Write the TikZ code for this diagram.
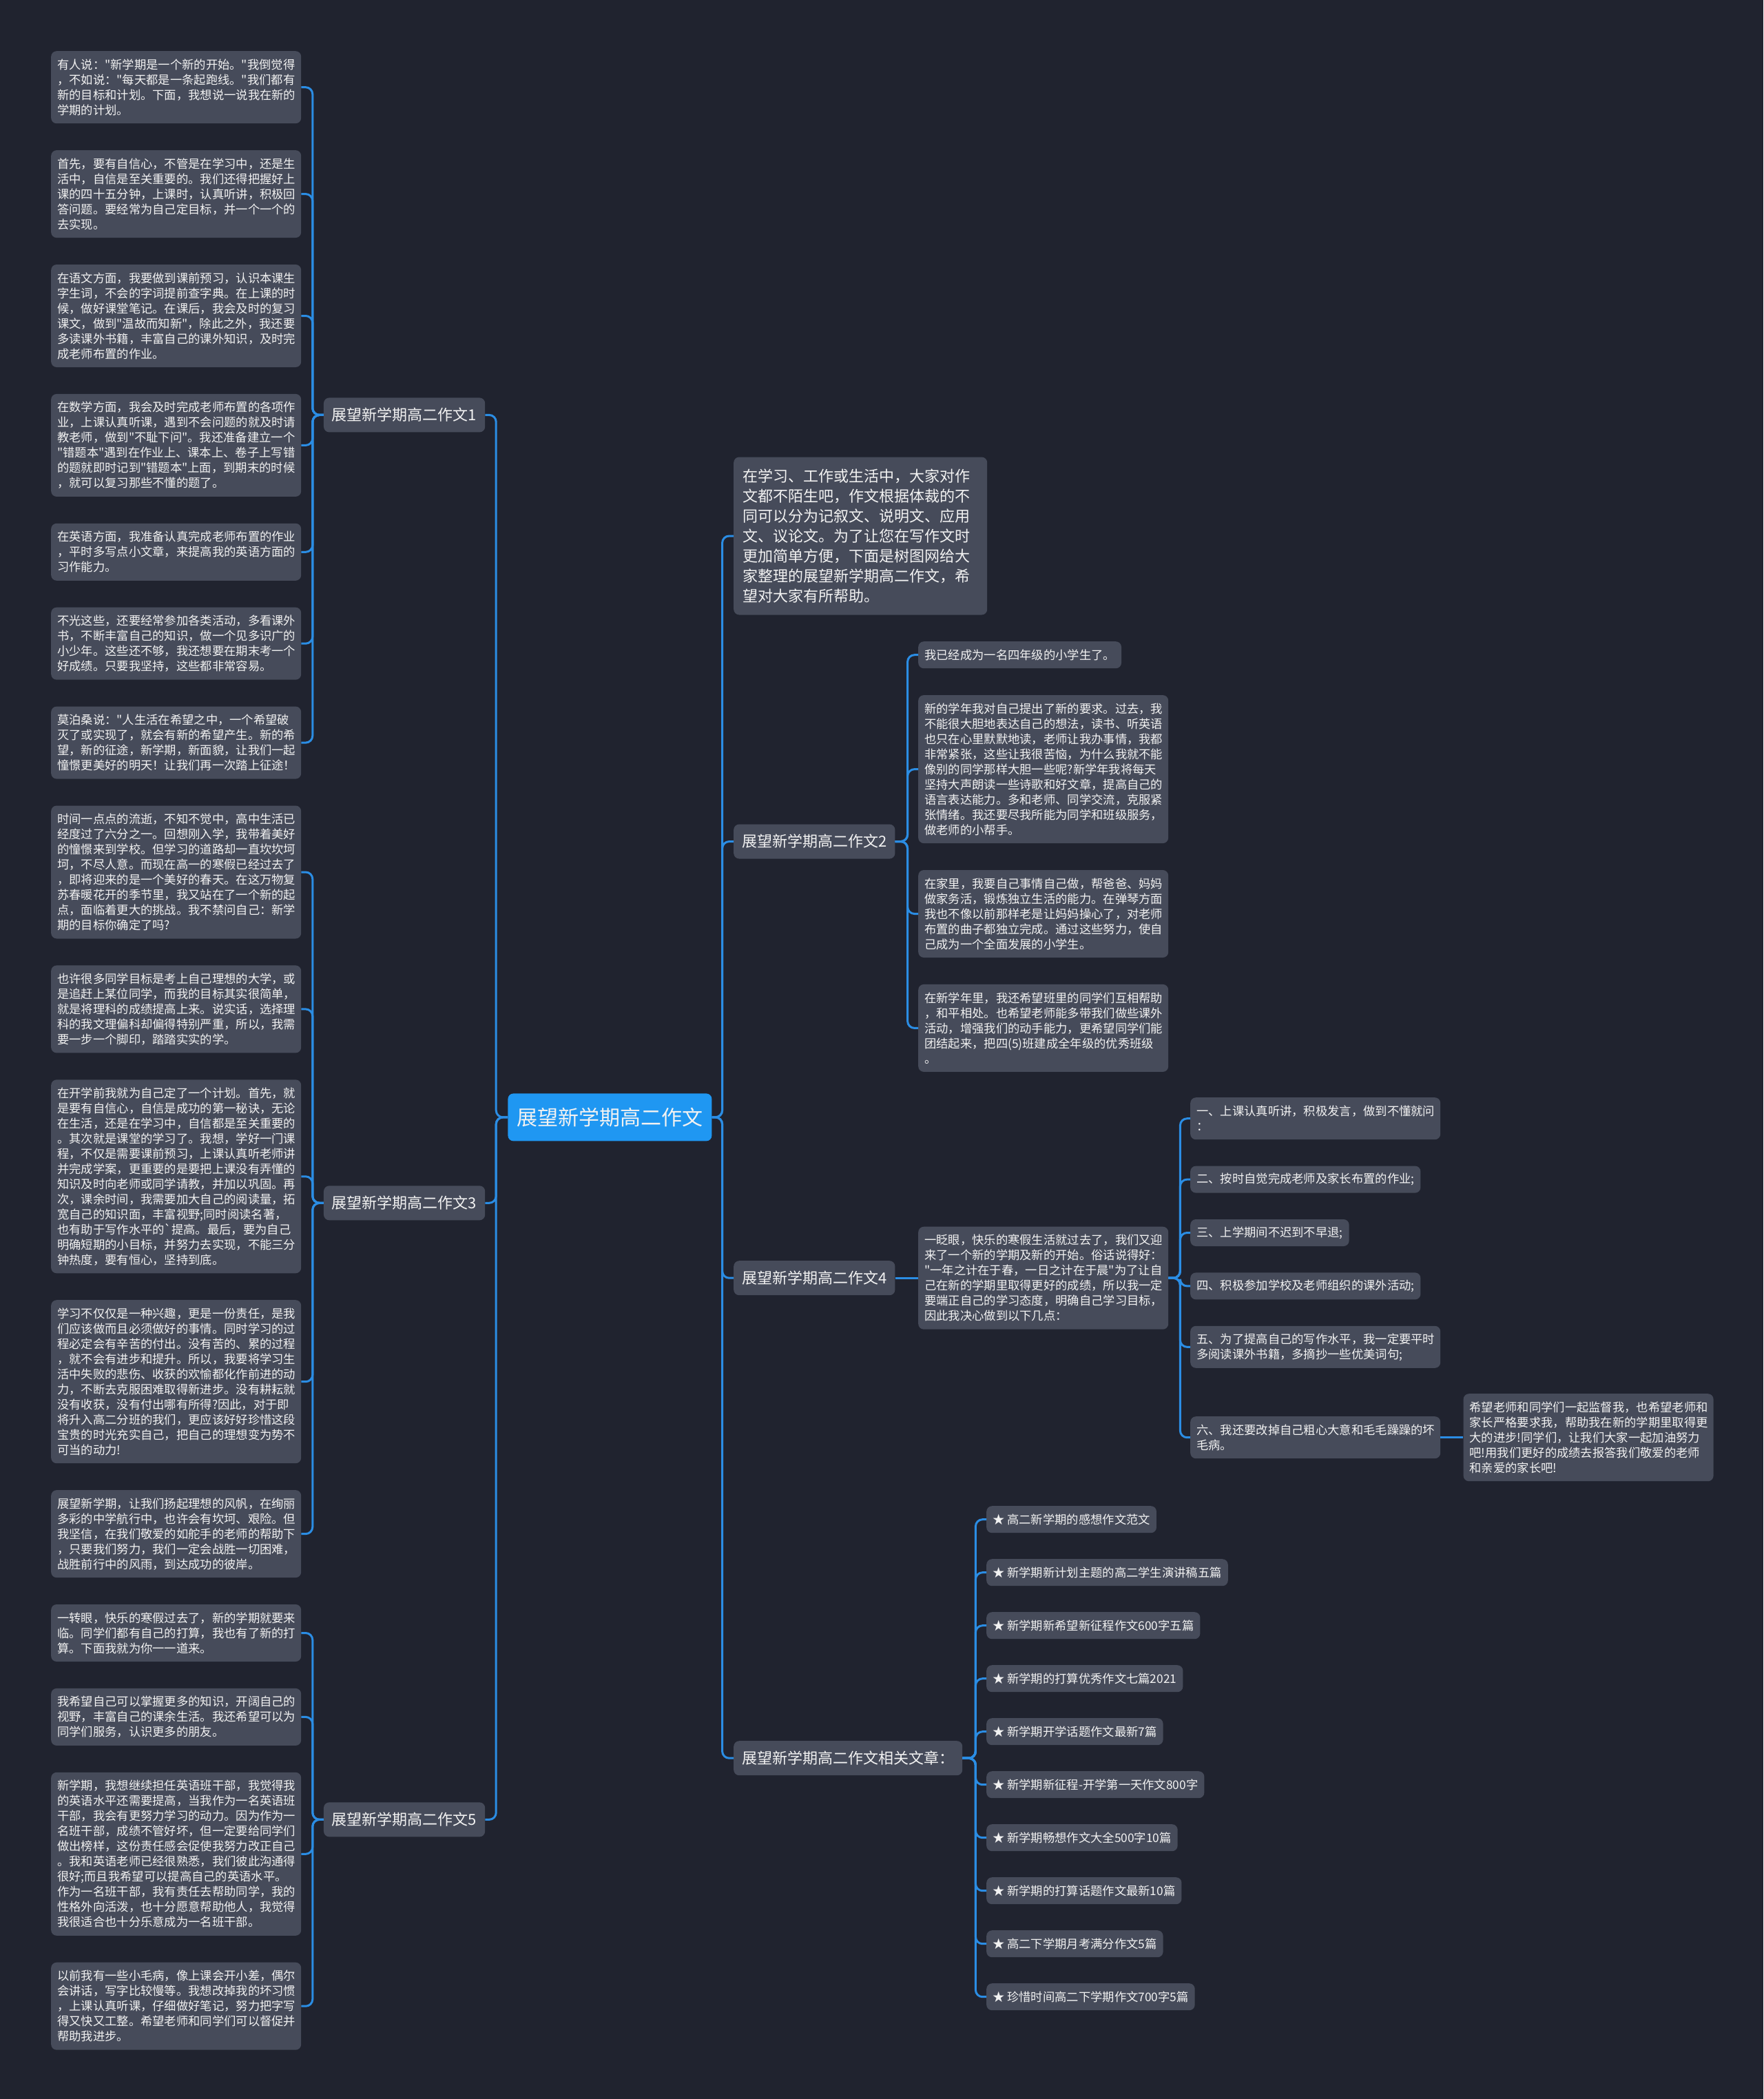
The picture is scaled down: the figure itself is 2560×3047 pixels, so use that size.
\documentclass[tikz,border=0pt]{standalone}
\usepackage{fontspec}
\newfontfamily\cjk{Noto Sans CJK SC}
\usetikzlibrary{positioning,calc}
\definecolor{bgdark}{HTML}{20232F}
\definecolor{boxgrey}{HTML}{464B5A}
\definecolor{linkblue}{HTML}{2B8DE4}
\definecolor{rootblue}{HTML}{1F97F2}
\definecolor{txt}{HTML}{F2F2F2}

\begin{document}
\begin{tikzpicture}[x=1pt,y=-1pt,
  every node/.style={text=txt},
  box/.style={rectangle,fill=boxgrey,rounded corners=8pt,inner ysep=3pt},
  para/.style={box,font=\cjk\fontsize{17.3}{22}\selectfont,align=left,
               text width=345pt,inner xsep=9pt,minimum height={22*#1+17}},
  lead/.style={box,font=\cjk\fontsize{22}{29}\selectfont,align=left,
               text width=342pt,inner xsep=13pt,minimum height=229},
  item/.style={box,font=\cjk\fontsize{17.3}{22}\selectfont,inner xsep=9pt,minimum height=39},
  branch/.style={box,font=\cjk\fontsize{22}{29}\selectfont,inner xsep=12pt,minimum height=50},
  root/.style={box,fill=rootblue,font=\cjk\fontsize{30}{36}\selectfont,inner xsep=13pt,minimum height=69},
  link/.style={draw=linkblue,line width=3pt,rounded corners=10pt},
]
\fill[bgdark] (0,0) rectangle (2560,3047);
\useasboundingbox (0,0) rectangle (2560,3047);

% left column: essay 1
\node[para=4,anchor=north west] (l1) at (74,74) {有人说："新学期是一个新的开始。"我倒觉得\\，不如说："每天都是一条起跑线。"我们都有\\新的目标和计划。下面，我想说一说我在新的\\学期的计划。};
\node[para=5,below=38.5pt of l1] (l2) {首先，要有自信心，不管是在学习中，还是生\\活中，自信是至关重要的。我们还得把握好上\\课的四十五分钟，上课时，认真听讲，积极回\\答问题。要经常为自己定目标，并一个一个的\\去实现。};
\node[para=6,below=38.5pt of l2] (l3) {在语文方面，我要做到课前预习，认识本课生\\字生词，不会的字词提前查字典。在上课的时\\候，做好课堂笔记。在课后，我会及时的复习\\课文，做到"温故而知新"，除此之外，我还要\\多读课外书籍，丰富自己的课外知识，及时完\\成老师布置的作业。};
\node[para=6,below=38.5pt of l3] (l4) {在数学方面，我会及时完成老师布置的各项作\\业，上课认真听课，遇到不会问题的就及时请\\教老师，做到"不耻下问"。我还准备建立一个\\"错题本"遇到在作业上、课本上、卷子上写错\\的题就即时记到"错题本"上面，到期末的时候\\，就可以复习那些不懂的题了。};
\node[para=3,below=38.5pt of l4] (l5) {在英语方面，我准备认真完成老师布置的作业\\，平时多写点小文章，来提高我的英语方面的\\习作能力。};
\node[para=4,below=38.5pt of l5] (l6) {不光这些，还要经常参加各类活动，多看课外\\书，不断丰富自己的知识，做一个见多识广的\\小少年。这些还不够，我还想要在期末考一个\\好成绩。只要我坚持，这些都非常容易。};
\node[para=4,below=38.5pt of l6] (l7) {莫泊桑说："人生活在希望之中，一个希望破\\灭了或实现了，就会有新的希望产生。新的希\\望，新的征途，新学期，新面貌，让我们一起\\憧憬更美好的明天！让我们再一次踏上征途！};

% left column: essay 3
\node[para=8,below=38.5pt of l7] (l8) {时间一点点的流逝，不知不觉中，高中生活已\\经度过了六分之一。回想刚入学，我带着美好\\的憧憬来到学校。但学习的道路却一直坎坎坷\\坷，不尽人意。而现在高一的寒假已经过去了\\，即将迎来的是一个美好的春天。在这万物复\\苏春暖花开的季节里，我又站在了一个新的起\\点，面临着更大的挑战。我不禁问自己：新学\\期的目标你确定了吗?};
\node[para=5,below=38.5pt of l8] (l9) {也许很多同学目标是考上自己理想的大学，或\\是追赶上某位同学，而我的目标其实很简单，\\就是将理科的成绩提高上来。说实话，选择理\\科的我文理偏科却偏得特别严重，所以，我需\\要一步一个脚印，踏踏实实的学。};
\node[para=12,below=38.5pt of l9] (l10) {在开学前我就为自己定了一个计划。首先，就\\是要有自信心，自信是成功的第一秘诀，无论\\在生活，还是在学习中，自信都是至关重要的\\。其次就是课堂的学习了。我想，学好一门课\\程，不仅是需要课前预习，上课认真听老师讲\\并完成学案，更重要的是要把上课没有弄懂的\\知识及时向老师或同学请教，并加以巩固。再\\次，课余时间，我需要加大自己的阅读量，拓\\宽自己的知识面，丰富视野;同时阅读名著，\\也有助于写作水平的`提高。最后，要为自己\\明确短期的小目标，并努力去实现，不能三分\\钟热度，要有恒心，坚持到底。};
\node[para=10,below=38.5pt of l10] (l11) {学习不仅仅是一种兴趣，更是一份责任，是我\\们应该做而且必须做好的事情。同时学习的过\\程必定会有辛苦的付出。没有苦的、累的过程\\，就不会有进步和提升。所以，我要将学习生\\活中失败的悲伤、收获的欢愉都化作前进的动\\力，不断去克服困难取得新进步。没有耕耘就\\没有收获，没有付出哪有所得?因此，对于即\\将升入高二分班的我们，更应该好好珍惜这段\\宝贵的时光充实自己，把自己的理想变为势不\\可当的动力!};
\node[para=5,below=38.5pt of l11] (l12) {展望新学期，让我们扬起理想的风帆，在绚丽\\多彩的中学航行中，也许会有坎坷、艰险。但\\我坚信，在我们敬爱的如舵手的老师的帮助下\\，只要我们努力，我们一定会战胜一切困难，\\战胜前行中的风雨，到达成功的彼岸。};

% left column: essay 5
\node[para=3,below=38.5pt of l12] (l13) {一转眼，快乐的寒假过去了，新的学期就要来\\临。同学们都有自己的打算，我也有了新的打\\算。下面我就为你一一道来。};
\node[para=3,below=38.5pt of l13] (l14) {我希望自己可以掌握更多的知识，开阔自己的\\视野，丰富自己的课余生活。我还希望可以为\\同学们服务，认识更多的朋友。};
\node[para=10,below=38.5pt of l14] (l15) {新学期，我想继续担任英语班干部，我觉得我\\的英语水平还需要提高，当我作为一名英语班\\干部，我会有更努力学习的动力。因为作为一\\名班干部，成绩不管好坏，但一定要给同学们\\做出榜样，这份责任感会促使我努力改正自己\\。我和英语老师已经很熟悉，我们彼此沟通得\\很好;而且我希望可以提高自己的英语水平。\\作为一名班干部，我有责任去帮助同学，我的\\性格外向活泼，也十分愿意帮助他人，我觉得\\我很适合也十分乐意成为一名班干部。};
\node[para=5,below=38.5pt of l15] (l16) {以前我有一些小毛病，像上课会开小差，偶尔\\会讲话，写字比较慢等。我想改掉我的坏习惯\\，上课认真听课，仔细做好笔记，努力把字写\\得又快又工整。希望老师和同学们可以督促并\\帮助我进步。};

% left branches and root
\node[branch,anchor=east] (b1) at ($(l1.east)!0.5!(l7.east)+(267pt,0)$) {展望新学期高二作文1};
\node[branch,anchor=east] (b3) at ($(l8.east)!0.5!(l12.east)+(267pt,0)$) {展望新学期高二作文3};
\node[branch,anchor=east] (b5) at ($(l13.east)!0.5!(l16.east)+(267pt,0)$) {展望新学期高二作文5};
\node[root] (root) at ($(b1.east)!0.5!(b5.east)+(181pt,0)$) {展望新学期高二作文};

% right side
\node[lead,anchor=west] (intro) at (1065,778) {在学习、工作或生活中，大家对作\\文都不陌生吧，作文根据体裁的不\\同可以分为记叙文、说明文、应用\\文、议论文。为了让您在写作文时\\更加简单方便，下面是树图网给大\\家整理的展望新学期高二作文，希\\望对大家有所帮助。};

% essay 2
\node[item,anchor=north west] (r2a) at (1333,931) {我已经成为一名四年级的小学生了。};
\node[para=9,below=38.5pt of r2a.south west,anchor=north west] (r2b) {新的学年我对自己提出了新的要求。过去，我\\不能很大胆地表达自己的想法，读书、听英语\\也只在心里默默地读，老师让我办事情，我都\\非常紧张，这些让我很苦恼，为什么我就不能\\像别的同学那样大胆一些呢?新学年我将每天\\坚持大声朗读一些诗歌和好文章，提高自己的\\语言表达能力。多和老师、同学交流，克服紧\\张情绪。我还要尽我所能为同学和班级服务，\\做老师的小帮手。};
\node[para=5,below=38.5pt of r2b] (r2c) {在家里，我要自己事情自己做，帮爸爸、妈妈\\做家务活，锻炼独立生活的能力。在弹琴方面\\我也不像以前那样老是让妈妈操心了，对老师\\布置的曲子都独立完成。通过这些努力，使自\\己成为一个全面发展的小学生。};
\node[para=5,below=38.5pt of r2c] (r2d) {在新学年里，我还希望班里的同学们互相帮助\\，和平相处。也希望老师能多带我们做些课外\\活动，增强我们的动手能力，更希望同学们能\\团结起来，把四(5)班建成全年级的优秀班级\\。};
\node[branch,anchor=west] (b2) at ($(r2a.west)!0.5!(r2d.west)+(-268pt,0)$) {展望新学期高二作文2};

% essay 4
\node[para=2,anchor=north west] (n1) at (1728,1593) {一、上课认真听讲，积极发言，做到不懂就问\\：};
\node[item,below=38pt of n1.south west,anchor=north west] (n2) {二、按时自觉完成老师及家长布置的作业;};
\node[item,below=38pt of n2.south west,anchor=north west] (n3) {三、上学期间不迟到不早退;};
\node[item,below=38pt of n3.south west,anchor=north west] (n4) {四、积极参加学校及老师组织的课外活动;};
\node[para=2,below=38pt of n4.south west,anchor=north west] (n5) {五、为了提高自己的写作水平，我一定要平时\\多阅读课外书籍，多摘抄一些优美词句;};
\node[para=2,below=70pt of n5] (n6) {六、我还要改掉自己粗心大意和毛毛躁躁的坏\\毛病。};
\node[para=5,right=33pt of n6] (fin) {希望老师和同学们一起监督我，也希望老师和\\家长严格要求我，帮助我在新的学期里取得更\\大的进步!同学们，让我们大家一起加油努力\\吧!用我们更好的成绩去报答我们敬爱的老师\\和亲爱的家长吧!};
\node[para=6,anchor=west] (m4) at ($(n1.west)!0.5!(n6.west)+(-395pt,0)$) {一眨眼，快乐的寒假生活就过去了，我们又迎\\来了一个新的学期及新的开始。俗话说得好：\\"一年之计在于春，一日之计在于晨"为了让自\\己在新的学期里取得更好的成绩，所以我一定\\要端正自己的学习态度，明确自己学习目标，\\因此我决心做到以下几点：};
\node[branch,anchor=west] (b4) at ($(m4.west)+(-268pt,0)$) {展望新学期高二作文4};

% related articles
\node[item,anchor=north west] (r1) at (1432,2186) {★ 高二新学期的感想作文范文};
\node[item,below=37.6pt of r1.south west,anchor=north west] (r2) {★ 新学期新计划主题的高二学生演讲稿五篇};
\node[item,below=37.6pt of r2.south west,anchor=north west] (r3) {★ 新学期新希望新征程作文600字五篇};
\node[item,below=37.6pt of r3.south west,anchor=north west] (r4) {★ 新学期的打算优秀作文七篇2021};
\node[item,below=37.6pt of r4.south west,anchor=north west] (r5) {★ 新学期开学话题作文最新7篇};
\node[item,below=37.6pt of r5.south west,anchor=north west] (r6) {★ 新学期新征程-开学第一天作文800字};
\node[item,below=37.6pt of r6.south west,anchor=north west] (r7) {★ 新学期畅想作文大全500字10篇};
\node[item,below=37.6pt of r7.south west,anchor=north west] (r8) {★ 新学期的打算话题作文最新10篇};
\node[item,below=37.6pt of r8.south west,anchor=north west] (r9) {★ 高二下学期月考满分作文5篇};
\node[item,below=37.6pt of r9.south west,anchor=north west] (r10) {★ 珍惜时间高二下学期作文700字5篇};
\node[branch,anchor=west] (brel) at ($(r1.west)!0.5!(r10.west)+(-367pt,0)$) {展望新学期高二作文相关文章：};

% connectors
\foreach \b in {b1,b3,b5} \draw[link] (root.west) -- ++(-17pt,0) |- (\b.east);
\foreach \b in {intro,b2,b4,brel} \draw[link] (root.east) -- ++(15pt,0) |- (\b.west);
\foreach \i in {1,...,7} \draw[link] (b1.west) -- ++(-16pt,0) |- (l\i.east);
\foreach \i in {8,...,12} \draw[link] (b3.west) -- ++(-16pt,0) |- (l\i.east);
\foreach \i in {13,...,16} \draw[link] (b5.west) -- ++(-16pt,0) |- (l\i.east);
\foreach \i in {a,b,c,d} \draw[link] (b2.east) -- ++(18pt,0) |- (r2\i.west);
\draw[link] (b4.east) -- (m4.west);
\foreach \i in {1,...,6} \draw[link] (m4.east) -- ++(17pt,0) |- (n\i.west);
\draw[link] (n6.east) -- (fin.west);
\foreach \i in {1,...,10} \draw[link] (brel.east) -- ++(19pt,0) |- (r\i.west);
\end{tikzpicture}
\end{document}
